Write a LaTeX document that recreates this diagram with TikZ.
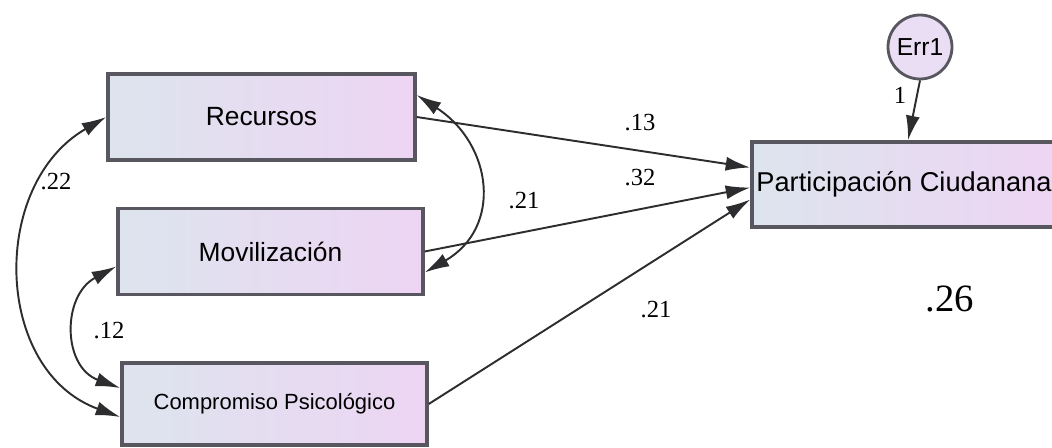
\documentclass[tikz,border=0pt]{standalone}
\usepackage{fontspec}
\setmainfont{Liberation Serif}
\setsansfont{Liberation Sans}
\usetikzlibrary{shapes,calc,positioning,arrows.meta}
\definecolor{boxleft}{RGB}{221,228,238}
\definecolor{boxright}{RGB}{237,213,243}
\definecolor{errfill}{RGB}{233,222,243}
\definecolor{edgegray}{RGB}{88,86,94}
\definecolor{linegray}{RGB}{45,45,48}

\begin{document}
\begin{tikzpicture}[x=0.02cm,y=0.02cm,every node/.append style={inner sep=0}]
    \tikzstyle{var}=[rectangle, draw=edgegray, line width=2pt, left color=boxleft, right color=boxright, minimum height=1.72cm, font=\sffamily\fontsize{15}{18}\selectfont]
    \tikzstyle{link}=[draw=linegray, line width=1.1pt, -{Latex[length=14pt,width=8pt]}]
    \tikzstyle{cov}=[{Latex[length=14pt,width=8pt]}-{Latex[length=14pt,width=8pt]}]
    \useasboundingbox (0,0) rectangle (1052,447);
    \clip (0,0) rectangle (1052,447);
    \node[var, minimum width=6.14cm] (rec) at (261.5,330) {Recursos};
    \node[var, minimum width=6.1cm] (mov) at (270.5,195.5) {Movilización};
    \node[var, minimum width=6.1cm, minimum height=1.64cm, font=\sffamily\fontsize{12.5}{15}\selectfont] (comp) at (274.5,43) {Compromiso Psicológico};
    \node[var, minimum width=6.08cm, minimum height=1.7cm, font=\sffamily\fontsize{15.5}{18}\selectfont] (par) at (904,262.5) {Participación Ciudanana};
    \node[circle, draw=edgegray, line width=1.6pt, fill=errfill, minimum size=1.28cm, font=\sffamily\fontsize{14}{16}\selectfont] (err) at (920,400) {Err1};
    \draw[link] (rec.east) -- ($(par.west)+(0,17)$);
    \draw[link] (mov.east) -- ($(par.west)+(0,-3)$);
    \draw[link] (comp.east) -- ($(par.west)+(0,-15)$);
    \draw[link] (err.south) -- ($(par.north)+(4,0)$);
    \draw[link, cov] ($(rec.east)+(0,22)$) to[out=-33, in=30, looseness=1.3] ($(mov.east)+(0,-21)$);
    \draw[link, cov] (rec.west) to[out=210, in=160, looseness=1.15] ($(comp.west)+(0,-13)$);
    \draw[link, cov] ($(mov.west)+(0,-15)$) to[out=208, in=160, looseness=1.3] ($(comp.west)+(0,16)$);
    \foreach \name/\x/\y/\val in {w13/640/324/.13, w32/640/269/.32, c21/524/246/.21, w21/656/137/.21, c22/56/265/.22, c12/109/116/.12, e1/900/352/1} {
        \node[font=\fontsize{14}{16}\selectfont] (\name) at (\x,\y) {\val};
    }
    \node[font=\fontsize{22}{26}\selectfont] (r26) at (950,148) {.26};
\end{tikzpicture}
\end{document}
